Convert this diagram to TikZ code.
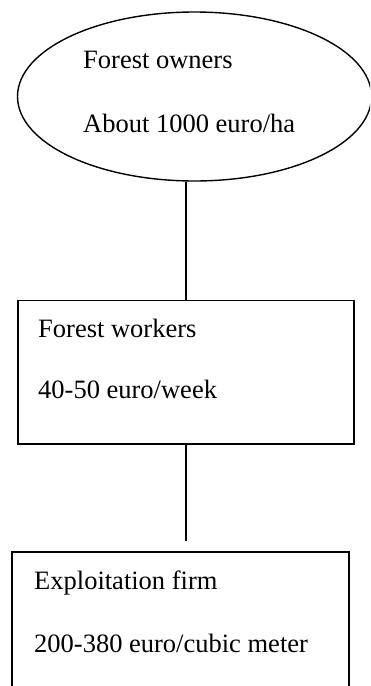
\documentclass[tikz,border=0pt]{standalone}
\usepackage{fontspec}
\setmainfont{Liberation Serif}
\usetikzlibrary{shapes.geometric}
\begin{document}
\begin{tikzpicture}[x=1pt,y=-1pt,
  shapeline/.style={draw=black,line width=1.4pt},
  lbl/.style={anchor=base west,inner sep=0pt,font=\fontsize{26.5}{30}\selectfont},
  conn/.style={draw=black,line width=1.4pt}]
\useasboundingbox (0,0) rectangle (370,686);
\clip (0,0) rectangle (370,686);
\fill[white] (0,0) rectangle (370,686);
% ellipse
\node[shapeline,ellipse,minimum width=354pt,minimum height=169pt,inner sep=0pt] (own) at (194.5,96.5) {};
\node[lbl] (t1) at (83,68) {Forest owners};
\node[lbl] (t2) at (83,132) {About 1000 euro/ha};
% box 1
\node[shapeline,rectangle,minimum width=336pt,minimum height=143.3pt,inner sep=0pt] (wrk) at (186,372.35) {};
\node[lbl] (t3) at (38,337) {Forest workers};
\node[lbl] (t4) at (38,398) {40-50 euro/week};
% box 2
\node[shapeline,rectangle,minimum width=337pt,minimum height=200pt,inner sep=0pt] (firm) at (180.5,652) {};
\node[lbl] (t5) at (34,589) {Exploitation firm};
\node[lbl] (t6) at (34,652) {200-380 euro/cubic meter};
% connectors
\coordinate (gapend) at (186,541);
\draw[conn] (wrk.north |- own.south) -- (wrk.north);
\draw[conn] (wrk.south) -- (gapend);
\end{tikzpicture}
\end{document}
